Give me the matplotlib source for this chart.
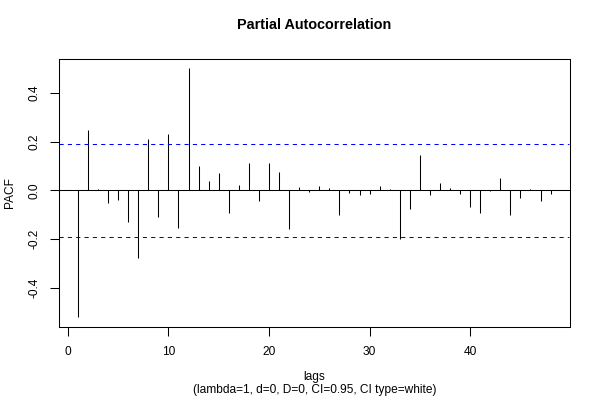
import matplotlib
matplotlib.use("Agg")
import matplotlib.pyplot as plt

plt.rcParams['font.family'] = ['Liberation Sans', 'DejaVu Sans']
plt.rcParams['axes.unicode_minus'] = False

# partial autocorrelations, lags 1..48
lags = list(range(1, 49))
pacf = [-0.521, 0.247, 0.004, -0.051, -0.040, -0.129, -0.278, 0.213, -0.109, 0.232,
        -0.154, 0.503, 0.100, 0.038, 0.070, -0.092, 0.022, 0.113, -0.044, 0.113,
        0.074, -0.161, 0.014, -0.005, 0.018, 0.011, -0.100, -0.011, -0.018, -0.014,
        0.019, 0.005, -0.199, -0.078, 0.146, -0.018, 0.029, 0.008, -0.016, -0.067,
        -0.092, -0.004, 0.051, -0.102, -0.030, 0.005, -0.043, -0.014]
ci = 0.19

xticks = [0, 10, 20, 30, 40]
yticks = [-0.4, -0.2, 0.0, 0.2, 0.4]

fig = plt.figure(figsize=(6, 4), dpi=100)
ax = fig.add_axes([59/600, 1-327/400, (569.5-59)/600, (327-59)/400])

ax.vlines(lags, 0, pacf, color='black', lw=0.75)
ax.axhline(0, color='black', lw=0.75)
for yv in (ci, -ci):
    ax.plot([-0.88, 49.88], [yv, yv], color='blue', lw=0.75, dashes=(4, 4))

ax.set_xlim(-0.88, 49.88)
ax.set_ylim(-0.562, 0.540)

ax.set_xticks(xticks)
ax.set_xticklabels([str(v) for v in xticks])
ax.set_yticks(yticks)
ax.set_yticklabels(['%.1f' % v for v in yticks], rotation=90, va='center')
ax.tick_params(direction='out', length=6.5, width=0.75, labelsize=8.6, pad=7)

for s in ax.spines.values():
    s.set_linewidth(0.75)

ax.set_ylabel('PACF', fontsize=8.6, labelpad=9)

cx = (59 + 569.5) / 2 / 600
fig.text(cx, 1-25/400, 'Partial Autocorrelation', ha='center', va='center',
         fontsize=10.4, fontweight='bold')
fig.text(cx, 1-377/400, 'lags', ha='center', va='center', fontsize=8.6)
fig.text(cx, 1-390.5/400, '(lambda=1, d=0, D=0, CI=0.95, CI type=white)',
         ha='center', va='center', fontsize=8.6)

fig.savefig('out.png', dpi=100)
